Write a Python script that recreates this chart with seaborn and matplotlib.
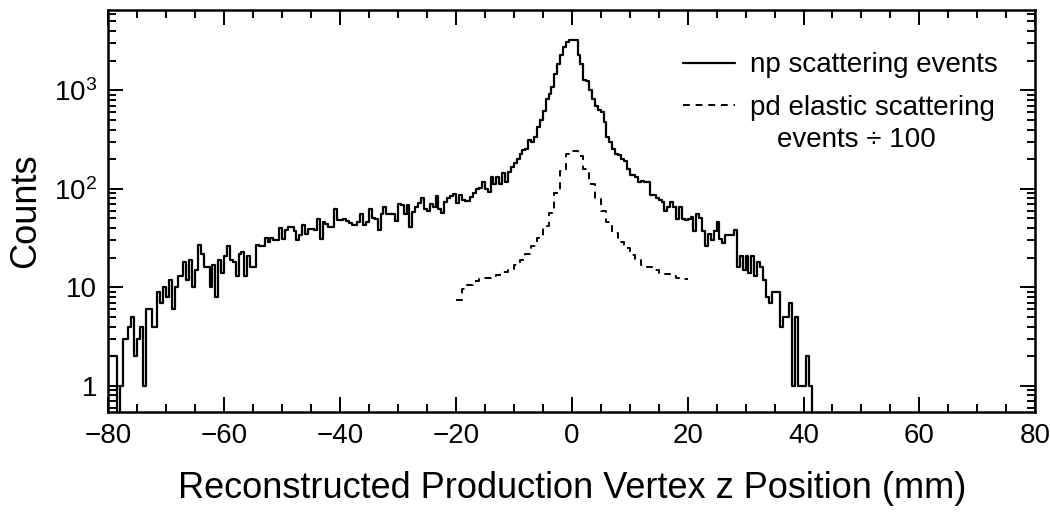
import numpy as np
import matplotlib
matplotlib.use("Agg")
import matplotlib.pyplot as plt
import seaborn as sns
from matplotlib.ticker import MultipleLocator, LogLocator, FuncFormatter, NullFormatter

# np scattering events, 0.5 mm bins starting at -80 mm
bin_start = -80.0
bin_width = 0.5
np_counts = [
    2, 2, 2, 0, 1, 3, 3, 4, 5, 2,            # -80 .. -75
    3, 4, 1, 6, 6, 4, 4, 9, 7, 10,           # -75 .. -70
    8, 12, 6, 10, 13, 13, 18, 12, 19, 10,    # -70 .. -65
    15, 27, 22, 16, 16, 10, 17, 8, 19, 14,   # -65 .. -60
    21, 26, 19, 18, 13, 22, 23, 13, 21, 16,  # -60 .. -55
    16, 27, 26, 26, 32, 29, 32, 30, 30, 40,  # -55 .. -50
    31, 38, 41, 41, 37, 30, 34, 43, 35, 39,  # -50 .. -45
    39, 38, 49, 31, 46, 44, 41, 41, 63, 48,  # -45 .. -40
    48, 49, 47, 45, 43, 43, 46, 56, 43, 46,  # -40 .. -35
    63, 50, 49, 38, 56, 65, 56, 55, 55, 47,  # -35 .. -30
    70, 69, 56, 68, 41, 58, 65, 72, 80, 63,  # -30 .. -25
    60, 70, 65, 84, 63, 57, 74, 80, 85, 88,  # -25 .. -20
    72, 86, 77, 76, 76, 82, 90, 100, 102, 117,          # -20 .. -15
    100, 93, 132, 113, 132, 113, 145, 117, 148, 167,    # -15 .. -10
    183, 202, 228, 246, 256, 316, 300, 336, 425, 496,   # -10 .. -5
    610, 823, 920, 1081, 1476, 1866, 2266, 2754, 3095, 3250,  # -5 .. 0
    3250, 3250, 2266, 1866, 1264, 1230, 1000, 823, 700, 627,  # 0 .. 5
    600, 480, 336, 299, 256, 228, 220, 202, 190, 160,   # 5 .. 10
    137, 139, 132, 117, 121, 117, 117, 86, 86, 80,      # 10 .. 15
    77, 74, 60, 65, 74, 65, 49, 65, 49, 48,             # 15 .. 20
    49, 52, 37, 56, 50, 37, 26, 35, 30, 37,             # 20 .. 25
    46, 31, 28, 34, 34, 34, 38, 16, 21, 15,             # 25 .. 30
    21, 14, 21, 13, 18, 16, 12, 8, 7, 9,                # 30 .. 35
    9, 9, 4, 5, 5, 7, 1, 5, 1, 1,                       # 35 .. 40
    1, 2, 1,                                            # 40 .. 41.5
]

# pd elastic scattering events / 100, 1 mm bins from -20 to 20 mm
pd_start = -20.0
pd_width = 1.0
pd_counts = [
    7.4, 9.5, 10.5, 11.5, 12.2, 12.5, 12.9, 13.3, 14.3, 15.3,
    16.7, 19, 22, 26, 32, 42, 57, 90, 150, 225,
    240, 215, 160, 113, 78, 60, 46, 36, 29, 25,
    21.5, 19, 17, 16, 15, 14, 13.5, 13, 12.5, 12.2,
]

np_edges = bin_start + bin_width * np.arange(len(np_counts) + 1)
np_y = np.append(np_counts, 0)          # drop to zero after the last bin
pd_edges = pd_start + pd_width * np.arange(len(pd_counts) + 1)
pd_y = np.append(pd_counts, pd_counts[-1])

sns.set_theme(style="ticks", rc={
    "axes.edgecolor": "black", "text.color": "black",
    "axes.labelcolor": "black", "xtick.color": "black", "ytick.color": "black",
})
plt.rcParams["font.family"] = ["Liberation Sans", "DejaVu Sans"]
plt.rcParams["mathtext.fontset"] = "custom"
plt.rcParams["mathtext.rm"] = "Liberation Sans"
plt.rcParams["mathtext.it"] = "Liberation Sans:italic"

fig = plt.figure(figsize=(10.5, 5.12), dpi=100)
ax = fig.add_axes([0.103, 0.195, 0.883, 0.785])

sns.lineplot(x=np_edges, y=np_y, ax=ax, color="black", linewidth=1.6,
             drawstyle="steps-post", estimator=None, sort=False,
             label="np scattering events")
sns.lineplot(x=pd_edges, y=pd_y, ax=ax, color="black", linewidth=1.4,
             drawstyle="steps-post", estimator=None, sort=False,
             linestyle=(0, (3.5, 3)), label="pd elastic scattering")

ax.set_yscale("log", nonpositive="clip")
ax.set_xlim(-80, 80)
ax.set_ylim(0.54, 6500)

ax.xaxis.set_major_locator(MultipleLocator(20))
ax.xaxis.set_minor_locator(MultipleLocator(5))
ax.yaxis.set_major_locator(LogLocator(base=10, numticks=10))
ax.yaxis.set_minor_locator(LogLocator(base=10, subs=np.arange(2, 10), numticks=20))

ylabels = {1: "1", 10: "10", 100: "$10^{2}$", 1000: "$10^{3}$"}
ax.yaxis.set_major_formatter(FuncFormatter(lambda v, p: ylabels.get(int(round(v)), "")))
ax.yaxis.set_minor_formatter(NullFormatter())

ax.tick_params(which="both", direction="in", top=True, right=True, width=1.4,
               labelsize=20, pad=8)
ax.tick_params(which="major", length=11)
ax.tick_params(which="minor", length=5.5)
for s in ax.spines.values():
    s.set_linewidth(1.8)

ax.set_xlabel("Reconstructed Production Vertex z Position (mm)", fontsize=26, labelpad=16)
ax.set_ylabel("Counts", fontsize=26, labelpad=8)

ax.legend(loc="upper left", bbox_to_anchor=(0.620, 0.895), frameon=False,
          fontsize=20, handlelength=1.87, handletextpad=0.54,
          borderpad=0, borderaxespad=0, labelspacing=0.6)
ax.text(0.7217, 0.676, "events ÷ 100", transform=ax.transAxes,
        fontsize=20, ha="left", va="center")

fig.savefig("out.png", dpi=100)
